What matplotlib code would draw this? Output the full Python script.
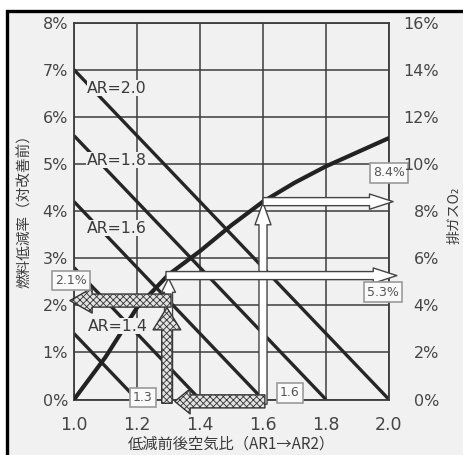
import matplotlib
matplotlib.use('Agg')
import matplotlib.pyplot as plt
from matplotlib.patches import FancyArrowPatch, Rectangle

# ---------------- data ----------------
x_ticks = [1.0, 1.2, 1.4, 1.6, 1.8, 2.0]
x_tick_labels = ['1.0', '1.2', '1.4', '1.6', '1.8', '2.0']
fuel_ticks = [0, 1, 2, 3, 4, 5, 6, 7, 8]
fuel_tick_labels = ['0%', '1%', '2%', '3%', '4%', '5%', '6%', '7%', '8%']
o2_ticks = [0, 2, 4, 6, 8, 10, 12, 14, 16]
o2_tick_labels = ['0%', '2%', '4%', '6%', '8%', '10%', '12%', '14%', '16%']

# AR lines: fuel reduction (%) at AR2 = 1.0, reaching 0 at AR2 = AR1
ar_before = [2.0, 1.8, 1.6, 1.4, 1.2]
ar_reduction_at_1 = [7.0, 5.6, 4.2, 2.8, 1.4]
ar_labels = ['AR=2.0', 'AR=1.8', 'AR=1.6', 'AR=1.4', None]
ar_label_x = [1.137, 1.137, 1.137, 1.14, None]
ar_label_y = [6.61, 5.08, 3.64, 1.56, None]

# exhaust O2 curve (right axis, %)
o2_x = [1.0, 1.1, 1.2, 1.3, 1.4, 1.5, 1.6, 1.7, 1.8, 1.9, 2.0]
o2_y = [0.0, 1.8, 3.9, 5.3, 6.3, 7.4, 8.4, 9.2, 9.9, 10.5, 11.1]

# worked example
ex_ar1 = 1.6
ex_ar2 = 1.3
ex_fuel = 2.1
ex_o2_after = 5.3
ex_o2_before = 8.4

O2_SCALE = 2.0  # right axis = 2 x left axis

# ---------------- figure ----------------
W, H = 463, 455
fig = plt.figure(figsize=(W / 100, H / 100), dpi=100)
fig.patch.set_facecolor('white')
BG = '#f1f1f1'
fig.patches.append(Rectangle((6.5 / W, -0.2), 1.3, 1.2 - 10.5 / H,
                             transform=fig.transFigure, facecolor=BG,
                             edgecolor='black', linewidth=2.4, zorder=-10))

ax = fig.add_axes([74 / W, 1 - 399.5 / H, (389 - 74) / W, (399.5 - 22.6) / H])
ax.set_facecolor('none')
ax.set_xlim(1.0, 2.0)
ax.set_ylim(0, 8)

GRID = '#3c3c3c'
TXT = '#454545'
ax.set_xticks(x_ticks)
ax.set_xticklabels(x_tick_labels, fontsize=12.5, color=TXT)
ax.set_yticks(fuel_ticks)
ax.set_yticklabels(fuel_tick_labels, fontsize=11.5, color=TXT)
ax.tick_params(axis='x', length=0, pad=12)
ax.tick_params(axis='y', length=0, pad=4.3)
ax.grid(True, color=GRID, linewidth=1.1, zorder=1)
ax.set_axisbelow(True)
for s in ax.spines.values():
    s.set_color(GRID)
    s.set_linewidth(1.3)

ax2 = ax.twinx()
ax2.set_ylim(0, 16)
ax2.set_yticks(o2_ticks)
ax2.set_yticklabels(o2_tick_labels, fontsize=11.5, color=TXT)
ax2.tick_params(axis='y', length=0, pad=36)
for lab in ax2.get_yticklabels():
    lab.set_horizontalalignment('right')
for s in ax2.spines.values():
    s.set_visible(False)

# AR lines
for ar, r1 in zip(ar_before, ar_reduction_at_1):
    ax.plot([1.0, ar], [r1, 0], color='#262626', lw=2.4, zorder=2,
            solid_capstyle='butt')

for lab, lx, ly in zip(ar_labels, ar_label_x, ar_label_y):
    if lab is None:
        continue
    ax.text(lx, ly, lab, fontsize=11.3, color='#3a3a3a', ha='center',
            va='center', zorder=4,
            bbox=dict(facecolor=BG, edgecolor='none', pad=0.6))

# O2 curve
ax.plot(o2_x, [v / O2_SCALE for v in o2_y], color='#222222', lw=3.0,
        zorder=3, solid_capstyle='butt')

# white arrows
white_kw = dict(arrowstyle='simple,head_length=17,head_width=11,tail_width=5.8',
                mutation_scale=1, facecolor='white', edgecolor='#444444',
                lw=1.0, shrinkA=0, shrinkB=0, zorder=5, clip_on=False)
ax.add_patch(FancyArrowPatch((ex_ar2, 0), (ex_ar2, ex_o2_after / O2_SCALE - 0.08),
                             **dict(white_kw, arrowstyle='simple,head_length=10,head_width=10,tail_width=5.8')))
ax.add_patch(FancyArrowPatch((ex_ar1, -0.1), (ex_ar1, ex_o2_before / O2_SCALE - 0.02),
                             **dict(white_kw, arrowstyle='simple,head_length=16,head_width=11.5,tail_width=5.8')))
ax.add_patch(FancyArrowPatch((ex_ar2 - 0.008, ex_o2_after / O2_SCALE - 0.02),
                             (2.025, ex_o2_after / O2_SCALE - 0.02), **white_kw))
ax.add_patch(FancyArrowPatch((ex_ar1, ex_o2_before / O2_SCALE),
                             (2.013, ex_o2_before / O2_SCALE), **white_kw))

# hatched arrows
plt.rcParams['hatch.linewidth'] = 0.6
hatch_kw = dict(mutation_scale=1, facecolor='#e2e2e2', edgecolor='#333333',
                hatch='xxxxx', lw=1.0, shrinkA=0, shrinkB=0, zorder=6,
                clip_on=False)
ax.add_patch(FancyArrowPatch((ex_ar1 + 0.006, -0.04), (ex_ar2 + 0.02, -0.04),
                             arrowstyle='simple,head_length=11,head_width=18,tail_width=9.4',
                             **hatch_kw))
ax.add_patch(FancyArrowPatch((ex_ar2 - 0.005, -0.08), (ex_ar2 - 0.005, ex_fuel - 0.15),
                             arrowstyle='simple,head_length=16,head_width=20,tail_width=7.5',
                             **hatch_kw))
ax.add_patch(FancyArrowPatch((ex_ar2 + 0.008, ex_fuel), (0.987, ex_fuel),
                             arrowstyle='simple,head_length=16,head_width=18,tail_width=9.4',
                             **hatch_kw))

# value boxes
box_kw = dict(fontsize=9, color='#555555', ha='center', va='center', zorder=8,
              bbox=dict(facecolor='#fafafa', edgecolor='#9a9a9a', lw=1.2,
                        boxstyle='square,pad=0.25'))
ax.text(0.99, ex_fuel + 0.42, f'{ex_fuel}%', clip_on=False, **box_kw)
ax.text(ex_ar2 - 0.082, 0.05, f'{ex_ar2}', clip_on=False, **box_kw)
ax.text(ex_ar1 + 0.085, 0.14, f'{ex_ar1}', clip_on=False, **box_kw)
ax.text(1.98, 2.28, f'{ex_o2_after}%', clip_on=False, **box_kw)
ax.text(2.0, 9.62 / O2_SCALE, f'{ex_o2_before}%', clip_on=False, **box_kw)

# axis titles
JP = ['Noto Sans CJK JP', 'DejaVu Sans']
fig.text(25 / W, 1 - 208 / H, '燃料低減率（対改善前）', rotation=90, family=JP,
         fontsize=10.5, color='#3a3a3a', ha='center', va='center')
fig.text(455 / W, 1 - 215 / H, '排ガスO₂', rotation=90, family=JP,
         fontsize=10, color='#3a3a3a', ha='center', va='center')
fig.text(231 / W, 1 - 453 / H, '低減前後空気比（AR1→AR2）', family=JP,
         fontsize=11, color='#3a3a3a', ha='center', va='bottom')

fig.savefig('out.png', dpi=100, facecolor='white')
